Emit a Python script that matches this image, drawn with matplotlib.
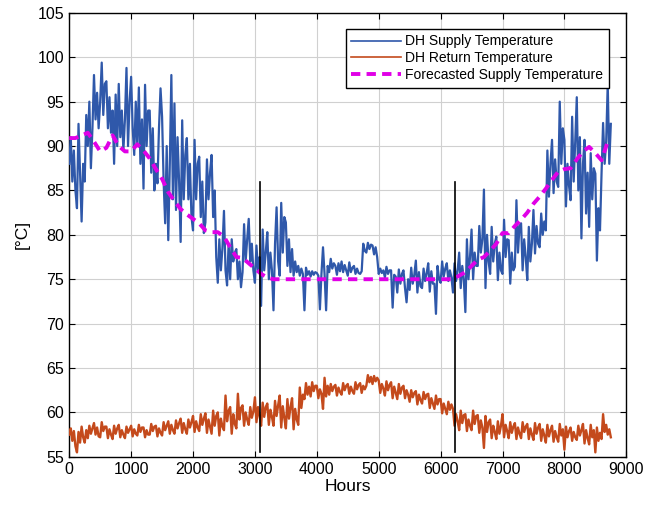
import numpy as np
import matplotlib
matplotlib.use("Agg")
import matplotlib.pyplot as plt

plt.rcParams["font.family"] = ["Liberation Sans", "DejaVu Sans"]

# ---------------- Data ----------------

# supply / return sampled every 25 h (values spread over the noisy band)
step_hours = 25

supply_temp = [
    88, 91, 86, 89.5,  85, 83, 92.5, 87,  81.5, 88, 86, 93.5,  90, 95, 87.5, 92,
    98, 93, 96, 92,  95, 99.4, 93.5, 97,  97.3, 92, 95.5, 91.5,  94, 88, 95.8, 90,
    97, 91, 94, 89.5,  93, 98.8, 90, 95,  97.8, 92, 89, 95,  90, 96.6, 88, 93,
    85.2, 96.9, 90, 94,  94, 87, 92, 85,  88, 85.8, 92, 96.5,  93.3, 86, 81.3, 90,
    79.4, 88, 98, 84,  94.8, 82.8, 91, 86,  79.2, 92.9, 84, 89,  90.9, 84, 88, 82,
    80.5, 90.7, 84, 88,  88.8, 82, 86, 80.2,  81.4, 88.5, 84, 87,  89, 82, 85, 77.5,
    74.6, 79.5, 76, 78.5,  82.7, 76, 74.3, 79,  75, 79.5, 77, 78,  78.4, 75, 77, 74.1,
    75.8, 81.2, 77, 79.5,  81.8, 77, 79, 76,  74.6, 78.8, 76, 77.5,  72, 80.6, 76, 78,
    80.3, 75, 78, 76,  71.5, 79, 83.1, 77,  75.4, 83.6, 78, 82,  81.4, 76.5, 79.5, 75.8,
    78.4, 75.4, 77, 75.8,  76.5, 75.4, 76.2, 75.6,  71.5, 76.3, 75.5, 75.9,  75.3, 75.9, 75.5, 75.8,
    75.7, 75.4, 71.6, 75.6,  78.6, 75.6, 71.5, 76.5,  75.8, 77.3, 76.2, 76.8,  76.5, 75.5, 76.8, 75.9,
    77, 75.8, 76.6, 76,  75.4, 76.9, 75.8, 76.3,  76.5, 75.6, 76.2, 75.7,  75.6, 75.9, 79, 78.2,
    78, 79.1, 78.4, 78.9,  78.8, 77.8, 78.6, 77.5,  75.6, 76.2, 75.7, 76,  75.2, 76.4, 75.6, 76,
    76, 71.8, 75.5, 75.3,  73.5, 76.1, 74.5, 75.6,  76, 74, 72.4, 75,  73.8, 76.3, 74.5, 75.5,
    77.1, 73.5, 75.8, 74.2,  74, 76.2, 74.8, 75.7,  76.8, 73.6, 75.9, 74.5,  74.5, 71.1, 76.5, 75,
    74.6, 77, 75.3, 76.2,  76.8, 74.8, 76, 75.2,  73.5, 76.8, 74.8, 76,  78, 74, 76.5, 75,
    71.3, 79.5, 75, 77.5,  80.6, 75, 78, 76.5,  76.5, 81, 78, 79.5,  85.1, 74, 80, 77,
    75.6, 80.9, 77, 79,  79.8, 74.9, 78, 76,  75.6, 81.7, 77.5, 79.5,  79.4, 74.5, 78, 76,
    76.4, 83.9, 78, 81,  81.3, 76, 79.5, 77.5,  74.9, 80.9, 77, 79,  82.8, 77.9, 81, 79,
    78.6, 82.4, 80, 81.5,  80.5, 89.5, 84.3, 88,  90.7, 84.7, 88.5, 86,  85.4, 95, 88, 92,
    90.7, 83.2, 88, 85.5,  83.9, 93.3, 86, 90.5,  95.5, 85, 91, 79.6,  88, 90.7, 82.4, 87,
    80.9, 89.2, 84, 87.5,  86.9, 77.1, 83, 80.5,  86.9, 92.6, 88, 90.5,  97, 88, 92.5,
]

return_temp = [
    57.5, 58.2, 56.8, 57.9,  56.2, 55.5, 57.8, 56.6,  58.4, 57.2, 56.6, 58,  57.1, 58.5, 57.6, 58.2,
    58.8, 57.5, 58.3, 57.3,  57.2, 58.9, 57.9, 58.4,  58.4, 57.1, 58.1, 57.5,  57, 58.5, 57.6, 58.2,
    58.6, 57.2, 58, 57.5,  57.1, 58.4, 57.7, 58.1,  58.5, 57.3, 58.1, 57.6,  57.4, 58.6, 57.8, 58.3,
    58.3, 57.2, 58, 57.5,  57.5, 58.7, 57.9, 58.4,  58.5, 57.3, 58.2, 57.7,  57.4, 58.9, 58, 58.5,
    59, 57.6, 58.6, 58,  57.6, 59.1, 58.2, 58.8,  59.3, 57.7, 58.8, 58.1,  57.6, 59.2, 58.3, 58.9,
    59.6, 57.8, 59, 58.3,  57.9, 59.8, 58.6, 59.3,  59.9, 57.7, 59.2, 58.4,  57.6, 60.2, 58.5, 59.6,
    60, 57.4, 59.3, 58.4,  58, 61.9, 59, 60.2,  60.6, 57.6, 59.8, 58.7,  58.2, 62.1, 59.2, 60.5,
    60.8, 58.5, 60, 59.2,  58.6, 60.6, 59.4, 60.1,  61.7, 58.9, 60.6, 59.6,  58.5, 61.1, 59.5, 60.6,
    61, 58.6, 60.3, 59.5,  58.5, 61.3, 59.6, 60.8,  61.9, 58.3, 60.7, 59.4,  58.2, 61.5, 59.3, 60.6,
    61.6, 58.1, 60.4, 59.2,  58.6, 62.8, 60.5, 62,  61.5, 63.3, 62, 62.9,  61.8, 63.4, 62.4, 63,
    63, 61.6, 62.6, 62.1,  60.4, 63.9, 61.8, 63,  62, 63.2, 62.4, 62.9,  63.1, 61.9, 62.8, 62.3,
    62, 63.3, 62.5, 63,  63.2, 62.1, 62.9, 62.4,  62.1, 63.4, 62.6, 63.1,  63.3, 62.2, 63, 62.6,
    63, 64.2, 63.4, 64,  63.2, 64.1, 63.5, 63.9,  63.6, 62.2, 63.2, 62.7,  61.9, 63.5, 62.5, 63.1,
    63.4, 61.6, 62.9, 62.2,  61.5, 63.2, 62.1, 62.8,  63, 61.6, 62.5, 62,  61.2, 62.5, 61.7, 62.2,
    62.4, 60.9, 62, 61.4,  61, 62.3, 61.5, 62,  62.1, 60.5, 61.6, 61,  60.4, 61.9, 60.9, 61.5,
    61.5, 59.9, 61, 60.4,  59.8, 61.2, 60.3, 60.9,  60.4, 58.5, 59.8, 59,  58, 60.2, 58.8, 59.7,
    59.8, 57.9, 59.2, 58.5,  58, 60.2, 58.7, 59.6,  59.7, 57.7, 59.1, 58.3,  56, 59.6, 57.8, 58.9,
    59.2, 57.1, 58.5, 57.8,  57, 59, 57.6, 58.5,  59.8, 57.2, 58.6, 57.9,  57.1, 58.9, 57.7, 58.4,
    58.8, 57, 58.3, 57.6,  57.1, 58.9, 57.8, 58.4,  58.7, 57, 58.2, 57.5,  56.9, 58.8, 57.6, 58.3,
    58.7, 56.8, 58.1, 57.4,  56.6, 58.6, 57.3, 58,  58.5, 56.7, 57.9, 57.2,  56.7, 58.7, 57.4, 58.1,
    55.8, 58.4, 57.2, 57.9,  58.3, 56.8, 57.8, 57.2,  56.9, 58.5, 57.4, 58,  58.7, 56.5, 58, 57.1,
    56.4, 58.6, 57.2, 58,  55.5, 58.3, 56.8, 57.7,  57, 59.8, 57.8, 58.6,  57.5, 58.1, 57.2,
]

# forecast sampled every 100 h
forecast_step = 100
forecast_temp = [
    90.9, 90.9, 91.2, 91.5, 90.5, 89.4, 89.8, 91.2, 90.0, 89.4,
    89.4, 90.2, 89.5, 88.6, 87.4, 86.3, 84.8, 83.8, 82.9, 82.3,
    81.8, 81.3, 80.5, 80.3, 80.3, 79.8, 78.6, 77.5, 77.4, 76.8,
    76.2, 75.6, 75.2, 75.0, 75.0, 75.0, 75.0, 75.0, 75.0, 75.0,
    75.0, 75.0, 75.0, 75.0, 75.0, 75.0, 75.0, 75.0, 75.0, 75.0,
    75.0, 75.0, 75.0, 75.0, 75.0, 75.0, 75.0, 75.0, 75.0, 75.0,
    75.0, 75.0, 75.0, 75.4, 75.8, 76.5, 77.2, 77.5, 78.2, 79.0,
    80.2, 80.2, 81.0, 81.7, 82.5, 83.5, 84.3, 85.2, 86.2, 87.1,
    87.4, 87.5, 88.5, 89.4, 89.9, 89.2, 88.4, 90.5,
]

# season boundaries (vertical markers)
boundary_hours = [3080, 6230]
boundary_range = (55.5, 86)

hours_supply = np.arange(len(supply_temp)) * step_hours
hours_return = np.arange(len(return_temp)) * step_hours
hours_fc = np.arange(len(forecast_temp)) * forecast_step

# ---------------- Plot ----------------

fig = plt.figure(figsize=(6.47, 5.15), dpi=100)
ax = fig.add_axes([0.107, 0.113, 0.861, 0.862])

ax.plot(hours_supply, supply_temp, color="#2f58aa", linewidth=1.6,
        label="DH Supply Temperature", zorder=3)
ax.plot(hours_return, return_temp, color="#c44a1c", linewidth=1.7,
        label="DH Return Temperature", zorder=3)
ax.plot(hours_fc, forecast_temp, color="#e000e6", linewidth=2.8,
        linestyle=(0, (2.4, 1.6)), label="Forecasted Supply Temperature",
        zorder=4)

for h in boundary_hours:
    ax.plot([h, h], boundary_range, color="black", linewidth=1.2, zorder=5)

ax.set_xlim(0, 9000)
ax.set_ylim(55, 105)
ax.set_xticks(range(0, 9001, 1000))
ax.set_yticks(range(55, 106, 5))
ax.tick_params(direction="in", top=True, right=True, labelsize=11.5,
               length=4, width=0.8)
ax.grid(True, color="#d0d0d0", linewidth=0.8)
ax.set_axisbelow(True)
for s in ax.spines.values():
    s.set_linewidth(1.0)

ax.set_xlabel("Hours", fontsize=12.5, labelpad=2)
ax.set_ylabel("[°C]", fontsize=12.5, labelpad=6)

leg = ax.legend(loc="upper right", bbox_to_anchor=(0.969, 0.964),
                borderaxespad=0, fontsize=10, handlelength=3.6,
                fancybox=False, framealpha=1, borderpad=0.4,
                labelspacing=0.2, handletextpad=0.3)
leg.get_frame().set_edgecolor("black")
leg.get_frame().set_linewidth(1.0)
for line in leg.get_lines()[:2]:
    line.set_linewidth(1.2)

plt.savefig("out.png", dpi=100)
plt.close()
